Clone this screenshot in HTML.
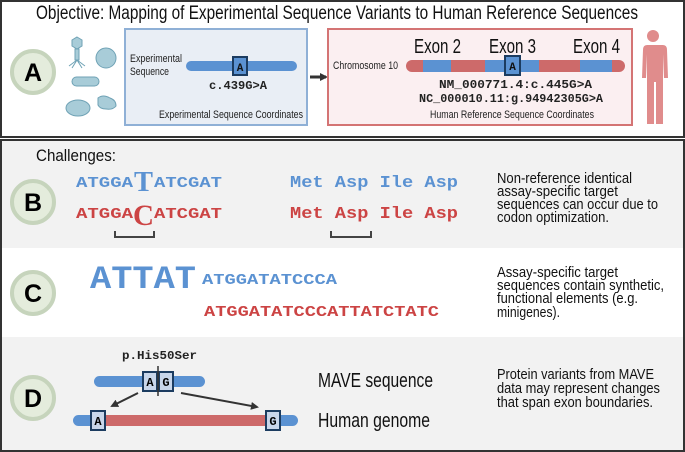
<!DOCTYPE html>
<html><head><meta charset="utf-8"><style>
html,body{margin:0;padding:0;background:#fff}
svg{display:block}
.n{font-family:"Liberation Sans Narrow","Liberation Sans",sans-serif}
.m{font-family:"Liberation Mono",monospace;font-weight:bold}
</style></head><body>
<svg width="685" height="452" viewBox="0 0 685 452" xmlns="http://www.w3.org/2000/svg">
<defs>
<marker id="ah" markerWidth="8" markerHeight="8" refX="6" refY="4" orient="auto" markerUnits="userSpaceOnUse"><path d="M0,0 L8,4 L0,8 z" fill="#333"/></marker>
</defs>
<rect x="1" y="1" width="683" height="136" fill="#fff" stroke="#333" stroke-width="2"/>
<text class="n" x="36" y="19" font-size="19" textLength="602" lengthAdjust="spacingAndGlyphs" fill="#111">Objective: Mapping of Experimental Sequence Variants to Human Reference Sequences</text>
<circle cx="33" cy="72" r="21" fill="#e4ecdc" stroke="#c6d4bc" stroke-width="4"/>
<text x="33" y="81" font-family="Liberation Sans" font-weight="bold" font-size="25" text-anchor="middle">A</text>
<g fill="#a8ccd8" stroke="#6fa2b5" stroke-width="1">
<polygon points="77,37 82,40 82,46 77,49 72,46 72,40"/>
<rect x="75" y="49" width="4" height="11"/>
<path d="M77,60 L69,66 M77,60 L85,66 M77,60 L72,68 M77,60 L82,68" fill="none"/>
<circle cx="106" cy="58" r="10"/>
<rect x="72" y="77" width="27" height="9" rx="4.5"/>
<ellipse cx="78" cy="108" rx="12" ry="8"/>
<path d="M98,98 q5,-4 12,0 q6,2 6,8 q-3,4 -10,3 q-6,0 -8,-4 z"/>
</g>
<rect x="125" y="29" width="182" height="96" fill="#e9eef5" stroke="#8fb0d6" stroke-width="2"/>
<text class="n" x="130" y="62" font-size="11" fill="#222" textLength="52" lengthAdjust="spacingAndGlyphs">Experimental</text>
<text class="n" x="130" y="75" font-size="11" fill="#222" textLength="39" lengthAdjust="spacingAndGlyphs">Sequence</text>
<rect x="186" y="61" width="111" height="10" rx="5" fill="#5b92d2"/>
<rect x="233" y="57" width="14" height="18" fill="#5b92d2" stroke="#1c3c60" stroke-width="2"/>
<text class="m" x="240" y="71" font-size="11" text-anchor="middle" fill="#111">A</text>
<text class="m" x="209" y="89" font-size="12" fill="#222" font-weight="normal" textLength="58" lengthAdjust="spacingAndGlyphs">c.439G&gt;A</text>
<text class="n" x="159" y="118" font-size="11" fill="#222" textLength="144" lengthAdjust="spacingAndGlyphs">Experimental Sequence Coordinates</text>
<line x1="310" y1="77" x2="326" y2="77" stroke="#333" stroke-width="3" marker-end="url(#ah)"/>
<rect x="328" y="29" width="304" height="96" fill="#fbeff1" stroke="#d47474" stroke-width="2"/>
<text class="n" x="414" y="53" font-size="20" fill="#111" textLength="47" lengthAdjust="spacingAndGlyphs">Exon 2</text>
<text class="n" x="489" y="53" font-size="20" fill="#111" textLength="47" lengthAdjust="spacingAndGlyphs">Exon 3</text>
<text class="n" x="573" y="53" font-size="20" fill="#111" textLength="47" lengthAdjust="spacingAndGlyphs">Exon 4</text>
<text class="n" x="333" y="69" font-size="11" fill="#222" textLength="65" lengthAdjust="spacingAndGlyphs">Chromosome 10</text>
<rect x="406" y="60" width="219" height="12" rx="6" fill="#cd6a6a"/>
<rect x="423" y="60" width="28" height="12" fill="#5b92d2"/>
<rect x="485" y="60" width="54" height="12" fill="#5b92d2"/>
<rect x="580" y="60" width="32" height="12" fill="#5b92d2"/>
<rect x="505" y="56" width="15" height="19" fill="#5b92d2" stroke="#1c3c60" stroke-width="2"/>
<text class="m" x="512.5" y="70" font-size="11" text-anchor="middle" fill="#111">A</text>
<text class="m" x="439" y="88" font-size="12" font-weight="normal" fill="#222" textLength="153" lengthAdjust="spacingAndGlyphs">NM_000771.4:c.445G&gt;A</text>
<text class="m" x="419" y="102" font-size="12" font-weight="normal" fill="#222" textLength="184" lengthAdjust="spacingAndGlyphs">NC_000010.11:g.94942305G&gt;A</text>
<text class="n" x="430" y="118" font-size="11" fill="#222" textLength="164" lengthAdjust="spacingAndGlyphs">Human Reference Sequence Coordinates</text>
<g fill="#e08c8c">
<circle cx="653" cy="36" r="6"/>
<path d="M643,45 h20 q4,0 4,5 l1,28 h-4 l-1,-24 v70 h-7 v-42 h-2 v42 h-7 v-70 l-1,24 h-4 l1,-28 q0,-5 4,-5z"/>
</g>
<rect x="1" y="140" width="683" height="311" fill="#fff" stroke="#333" stroke-width="2"/>
<rect x="2" y="141" width="681" height="107" fill="#f2f2f2"/>
<rect x="2" y="337" width="681" height="113" fill="#f2f2f2"/>
<text class="n" x="36" y="161" font-size="17" fill="#111" textLength="80" lengthAdjust="spacingAndGlyphs">Challenges:</text>
<circle cx="33" cy="202" r="21" fill="#e4ecdc" stroke="#c6d4bc" stroke-width="4"/>
<text x="33" y="211" font-family="Liberation Sans" font-weight="bold" font-size="25" text-anchor="middle">B</text>
<g class="m" fill="#5b92d2">
<text x="76" y="187" font-size="15" textLength="57" lengthAdjust="spacingAndGlyphs">ATGGA</text>
<text x="134" y="191" font-size="28" textLength="19" lengthAdjust="spacingAndGlyphs" font-family="Liberation Serif">T</text>
<text x="154" y="187" font-size="15" textLength="68" lengthAdjust="spacingAndGlyphs">ATCGAT</text>
<text x="290" y="187" font-size="17" textLength="168" lengthAdjust="spacingAndGlyphs">Met Asp Ile Asp</text>
</g>
<g class="m" fill="#cc4444">
<text x="76" y="218" font-size="15" textLength="57" lengthAdjust="spacingAndGlyphs">ATGGA</text>
<text x="133" y="225" font-size="30" textLength="21" lengthAdjust="spacingAndGlyphs" font-family="Liberation Serif">C</text>
<text x="154" y="218" font-size="15" textLength="68" lengthAdjust="spacingAndGlyphs">ATCGAT</text>
<text x="290" y="218" font-size="17" textLength="168" lengthAdjust="spacingAndGlyphs">Met Asp Ile Asp</text>
</g>
<path d="M115,231 v6 h39 v-6 M331,231 v6 h40 v-6" fill="none" stroke="#444" stroke-width="2"/>
<g class="n" font-size="15" fill="#111" lengthAdjust="spacingAndGlyphs">
<text x="497" y="183" textLength="135" lengthAdjust="spacingAndGlyphs">Non-reference identical</text>
<text x="497" y="196" textLength="121" lengthAdjust="spacingAndGlyphs">assay-specific target</text>
<text x="497" y="209" textLength="161" lengthAdjust="spacingAndGlyphs">sequences can occur due to</text>
<text x="497" y="222" textLength="112" lengthAdjust="spacingAndGlyphs">codon optimization.</text>
</g>
<circle cx="33" cy="293" r="21" fill="#e4ecdc" stroke="#c6d4bc" stroke-width="4"/>
<text x="33" y="302" font-family="Liberation Sans" font-weight="bold" font-size="25" text-anchor="middle">C</text>
<text class="m" x="90" y="288" font-size="32" fill="#5b92d2" textLength="106" lengthAdjust="spacingAndGlyphs">ATTAT</text>
<text class="m" x="202" y="284" font-size="15" fill="#5b92d2" textLength="135" lengthAdjust="spacingAndGlyphs">ATGGATATCCCA</text>
<text class="m" x="204" y="316" font-size="15" fill="#cc4444" textLength="235" lengthAdjust="spacingAndGlyphs">ATGGATATCCCATTATCTATC</text>
<g class="n" font-size="15" fill="#111">
<text x="497" y="277" textLength="121" lengthAdjust="spacingAndGlyphs">Assay-specific target</text>
<text x="497" y="290" textLength="167" lengthAdjust="spacingAndGlyphs">sequences contain synthetic,</text>
<text x="497" y="303" textLength="141" lengthAdjust="spacingAndGlyphs">functional elements (e.g.</text>
<text x="497" y="317" textLength="63" lengthAdjust="spacingAndGlyphs">minigenes).</text>
</g>
<circle cx="33" cy="398" r="21" fill="#e4ecdc" stroke="#c6d4bc" stroke-width="4"/>
<text x="33" y="407" font-family="Liberation Sans" font-weight="bold" font-size="25" text-anchor="middle">D</text>
<text class="m" x="122" y="359" font-size="12" fill="#222" textLength="75" lengthAdjust="spacingAndGlyphs">p.His50Ser</text>
<rect x="94" y="376" width="111" height="11" rx="5.5" fill="#5b92d2"/>
<rect x="143" y="372" width="14" height="19" fill="#c8d6ea" stroke="#1c3c60" stroke-width="2"/>
<rect x="159" y="372" width="14" height="19" fill="#c8d6ea" stroke="#1c3c60" stroke-width="2"/>
<text class="m" x="150" y="386" font-size="12" text-anchor="middle">A</text>
<text class="m" x="166" y="386" font-size="12" text-anchor="middle">G</text>
<line x1="158" y1="366" x2="158" y2="396" stroke="#333" stroke-width="1.5"/>
<line x1="138" y1="393" x2="112" y2="406" stroke="#333" stroke-width="2" marker-end="url(#ah)"/>
<line x1="181" y1="393" x2="257" y2="407" stroke="#333" stroke-width="2" marker-end="url(#ah)"/>
<rect x="73" y="415" width="225" height="11" rx="5.5" fill="#5b92d2"/>
<rect x="100" y="415" width="170" height="11" fill="#cd6a6a"/>
<rect x="91" y="411" width="14" height="19" fill="#c8d6ea" stroke="#1c3c60" stroke-width="2"/>
<rect x="266" y="411" width="14" height="19" fill="#c8d6ea" stroke="#1c3c60" stroke-width="2"/>
<text class="m" x="98" y="425" font-size="12" text-anchor="middle">A</text>
<text class="m" x="273" y="425" font-size="12" text-anchor="middle">G</text>
<text class="n" x="318" y="387" font-size="20" fill="#111" textLength="115" lengthAdjust="spacingAndGlyphs">MAVE sequence</text>
<text class="n" x="318" y="427" font-size="20" fill="#111" textLength="112" lengthAdjust="spacingAndGlyphs">Human genome</text>
<g class="n" font-size="15" fill="#111">
<text x="497" y="379" textLength="157" lengthAdjust="spacingAndGlyphs">Protein variants from MAVE</text>
<text x="497" y="393" textLength="163" lengthAdjust="spacingAndGlyphs">data may represent changes</text>
<text x="497" y="407" textLength="156" lengthAdjust="spacingAndGlyphs">that span exon boundaries.</text>
</g>
</svg>
</body></html>
